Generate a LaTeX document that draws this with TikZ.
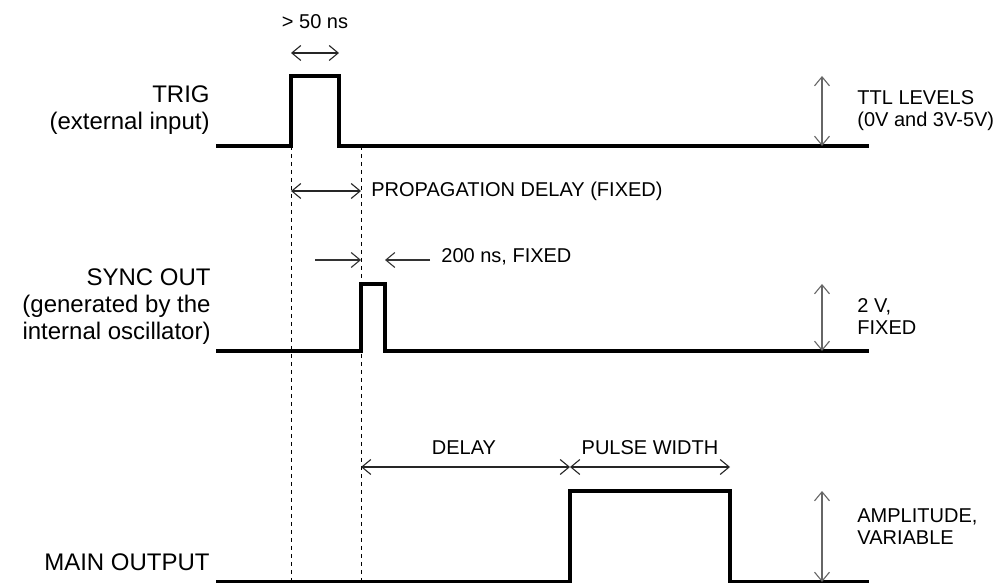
\documentclass[tikz,border=0pt]{standalone}
\usepackage{fontspec}
\setmainfont{Liberation Sans}
\usetikzlibrary{arrows.meta}

\begin{document}
\begin{tikzpicture}[
    x=0.5pt, y=-0.5pt,
    sig/.style={line width=1.7pt, line join=miter},
    guide/.style={dash pattern=on 2pt off 2pt, line width=0.4pt},
    dim/.style={{Straight Barb[length=4.5pt,width=7.5pt]}-{Straight Barb[length=4.5pt,width=7.5pt]}, line width=0.55pt, black!85},
    into/.style={-{Straight Barb[length=4.5pt,width=7.5pt]}, line width=0.55pt, black!80},
    amp/.style={{Straight Barb[length=4.5pt,width=7.5pt]}-{Straight Barb[length=4.5pt,width=7.5pt]}, line width=0.55pt, black!60},
    lbl/.style={inner sep=0pt, align=right, anchor=base east, font=\fontsize{12}{13.75}\selectfont},
    note/.style={inner sep=0pt, align=left, anchor=base west, font=\fontsize{10}{11}\selectfont},
]
\useasboundingbox (0,0) rectangle (998,583);

% edges that the timing refers to
\coordinate (trigUp) at (291,146);
\coordinate (trigDn) at (339,146);
\coordinate (syncUp) at (361,351);
\coordinate (syncDn) at (385,351);
\coordinate (mainUp) at (570,582);
\coordinate (mainDn) at (730,582);

% guide lines
\draw[guide] (trigUp) -- (291,583);
\draw[guide] (361,146) -- (361,583);

% waveforms
\draw[sig] (216,146) -- (trigUp) |- (339,76) -- (trigDn) -- (869,146);
\draw[sig] (216,351) -- (syncUp) |- (385,284) -- (syncDn) -- (869,351);
\draw[sig] (216,582) -- (mainUp) |- (730,491) -- (mainDn) -- (869,582);

% left labels (base = last line)
\node[lbl] (trig) at (210,130) {TRIG\\(external input)};
\node[lbl] (sync) at (211,340) {SYNC OUT\\(generated by the\\internal oscillator)};
\node[lbl] (main) at (210,570) {MAIN OUTPUT};

% timing marks
\draw[dim] (291,53) -- (339,53);
\node[note, anchor=base] (wmin) at (315,29) {> 50 ns};
\draw[dim] (291,191) -- (361,191);
\node[note] (prop) at (371,197) {PROPAGATION DELAY (FIXED)};
\draw[into] (315,260) -- (361,260);
\draw[into] (430,260) -- (385,260);
\node[note] (sw) at (441,263) {200 ns, FIXED};
\draw[dim] (361,467) -- (570,467);
\draw[dim] (570,467) -- (730,467);
\node[note, anchor=base] (dly) at (464,455) {DELAY};
\node[note, anchor=base] (pw) at (650,455) {PULSE WIDTH};

% levels
\draw[amp] (822,76) -- (822,146);
\node[note] (ttl) at (857,127) {TTL LEVELS\\(0V and 3V-5V)};
\draw[amp] (822,284) -- (822,351);
\node[note] (two) at (857,335) {2 V,\\FIXED};
\draw[amp] (822,491) -- (822,582);
\node[note] (ampl) at (857,545) {AMPLITUDE,\\VARIABLE};
\end{tikzpicture}
\end{document}
